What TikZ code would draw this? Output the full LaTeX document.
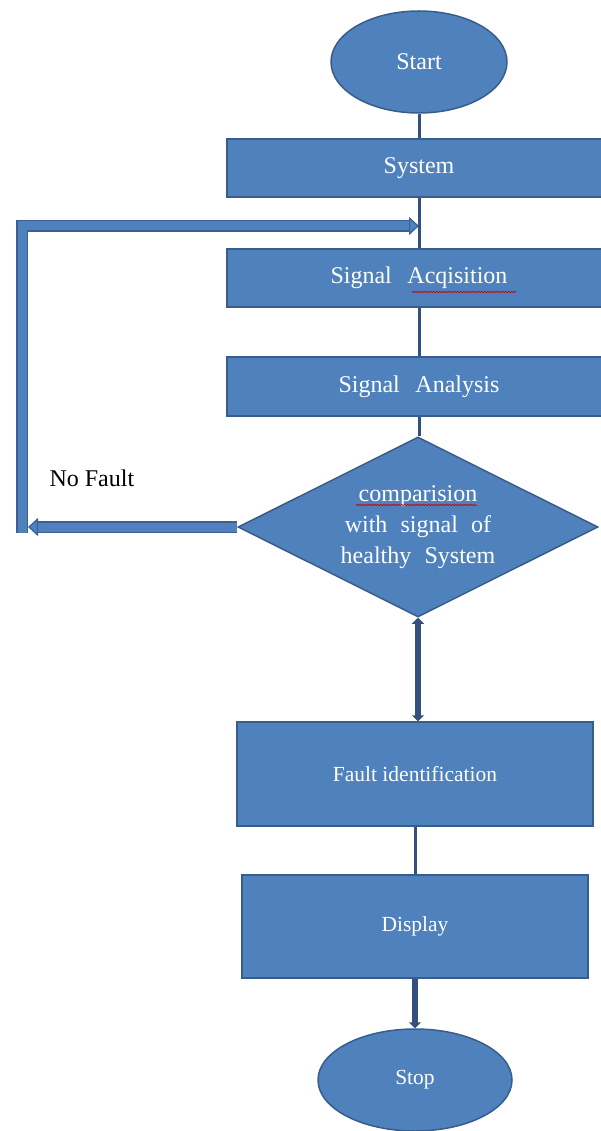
\documentclass[tikz,border=0pt]{standalone}
\usepackage{fontspec}
\setmainfont{Liberation Serif}
\usetikzlibrary{shapes.geometric,arrows.meta,decorations.pathmorphing}
\definecolor{boxfill}{HTML}{4F81BD}
\definecolor{boxline}{HTML}{385D8A}
\definecolor{linkc}{HTML}{34507F}
\definecolor{fbdark}{HTML}{3B5F96}
\pgfdeclarelayer{background}
\pgfsetlayers{background,main}
\tikzset{smalltip/.tip={Triangle[length=6pt,width=12pt]}}
\begin{document}
\begin{tikzpicture}[x=1pt,y=-1pt,
  blk/.style={rectangle, draw=boxline, line width=1.5pt, fill=boxfill, text=white, inner sep=0pt},
  term/.style={ellipse, draw=boxline, line width=1.5pt, fill=boxfill, text=white, inner sep=0pt},
  dec/.style={diamond, draw=boxline, line width=1.5pt, fill=boxfill, inner sep=0pt},
  big/.style={font=\fontsize{24}{31}\selectfont},
  small/.style={font=\fontsize{21.5}{26}\selectfont},
  link/.style={draw=linkc, line width=3pt},
  boldlink/.style={draw=linkc, line width=5.5pt},
  fbo/.style={draw=fbdark, line width=12pt, line join=miter},
  fbi/.style={draw=boxfill, line width=9pt, line join=miter},
  fbtip/.style={-{Triangle[length=10pt,width=18pt,line width=1.2pt,fill=boxfill]}},
  squiggle/.style={draw=red!80!black, line width=0.7pt, decorate, decoration={snake, amplitude=0.7pt, segment length=3pt}}
]
\useasboundingbox (0,0) rectangle (601,1131);
\clip (0,0) rectangle (601,1131);

% nodes
\node[term, big, minimum width=176pt, minimum height=102pt] (start) at (419,62) {Start};
\node[blk, big, minimum width=384pt, minimum height=58pt] (sys) at (419,168) {System};
\node[blk, big, minimum width=384pt, minimum height=58pt] (acq) at (419,278) {Signal\hspace{0.4em} Acqisition};
\node[blk, big, minimum width=384pt, minimum height=59pt] (ana) at (419,386.5) {Signal\hspace{0.4em} Analysis};
\node[dec, minimum width=360pt, minimum height=180pt] (cmp) at (418,527) {};
\node[big, text=white, align=center] (cmpt) at (cmp.center) {comparision\\with\hspace{0.3em} signal\hspace{0.3em} of\\healthy\hspace{0.3em} System};
\node[blk, small, minimum width=356pt, minimum height=104pt] (fault) at (415,774) {Fault identification};
\node[blk, small, minimum width=346pt, minimum height=103pt] (disp) at (415,926.5) {Display};
\node[term, small, minimum width=194pt, minimum height=102pt] (stop) at (415,1080) {Stop};
\node[big, anchor=west] (nofault) at (46,478) {No Fault};

% spelling squiggles
\draw[squiggle] (412,292) -- (516,292);
\draw[squiggle] (356,505) -- (477,505);

% feedback coordinates
\coordinate (lb) at (22,533);
\coordinate (lt) at (22,226);
\coordinate (jn) at (419,226);
\coordinate (la) at (28,527);

\begin{pgfonlayer}{background}
  % feedback loop (hollow double-line arrows)
  \draw[fbo, fbtip] (lb) -- (lt) -- (jn);
  \draw[fbi, shorten >=10pt] (lb) -- (lt) -- (jn);
  \draw[fbo, fbtip] (cmp.west) -- (la);
  \draw[fbi, shorten >=10pt] (cmp.west) -- (la);
  % straight links
  \draw[link] (start.south) -- (sys.north);
  \draw[link] (sys.south) -- (acq.north);
  \draw[link] (acq.south) -- (ana.north);
  \draw[link] (ana.south) -- (ana.south |- cmp.north);
  \draw[boldlink, smalltip-smalltip] (cmp.south) -- (cmp.south |- fault.north);
  \draw[link] (fault.south) -- (disp.north);
  \draw[boldlink, -smalltip] (disp.south) -- (stop.north);
\end{pgfonlayer}
\end{tikzpicture}
\end{document}
